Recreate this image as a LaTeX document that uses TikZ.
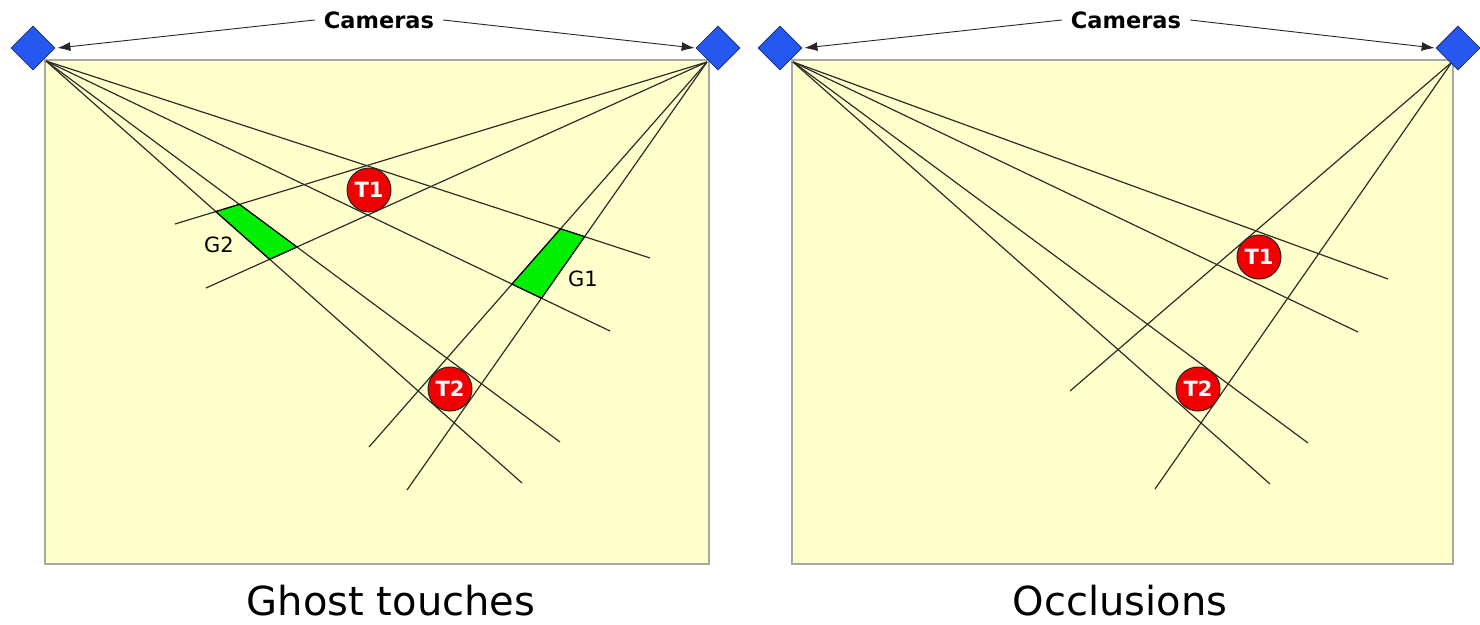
\documentclass[tikz,border=0pt]{standalone}
\usepackage{fontspec}
\setmainfont{DejaVu Sans}
\usetikzlibrary{shapes.geometric,arrows.meta,intersections}
\definecolor{fieldfill}{HTML}{FFFFCC}
\definecolor{fieldedge}{HTML}{A8A8A0}
\definecolor{camblue}{HTML}{2458F0}
\definecolor{camedge}{HTML}{1C2A7A}
\definecolor{raycol}{HTML}{2E2E28}
\definecolor{ghostgreen}{HTML}{00F000}
\definecolor{touchred}{HTML}{F00000}
\tikzset{
  field/.style={draw=fieldedge, fill=fieldfill, line width=1.6pt},
  camera/.style={diamond, draw=camedge, fill=camblue, minimum width=44pt, minimum height=44pt, inner sep=0pt, line width=0.8pt},
  ray/.style={draw=raycol, line width=1.2pt},
  touch/.style={circle, draw=black!85, fill=touchred, minimum size=44pt, inner sep=0pt, text=white, font=\bfseries\fontsize{21}{21}\selectfont, line width=1pt},
  ghost/.style={draw=black, fill=ghostgreen, line width=1.2pt},
  callout/.style={-{Latex[length=13pt,width=9pt]}, draw=black!85, line width=0.9pt},
  camlabel/.style={font=\bfseries\fontsize{22.5}{22.5}\selectfont, inner sep=9pt},
  caption/.style={font=\fontsize{40}{40}\selectfont, inner sep=0pt},
  glabel/.style={font=\fontsize{21}{21}\selectfont, inner sep=0pt}
}
\begin{document}
\begin{tikzpicture}[x=1pt,y=-1pt]
\useasboundingbox (0,0) rectangle (1480,624);
% ---------------- left panel: ghost touches ----------------
\draw[field] (45,60) rectangle (709,564);
\coordinate (aL) at (46,61);
\coordinate (aR) at (707,62);
\coordinate (aL1) at (650,258);
\coordinate (aL2) at (610,331);
\coordinate (aL3) at (560,442);
\coordinate (aL4) at (522,483);
\coordinate (aR1) at (175,224);
\coordinate (aR2) at (206,288);
\coordinate (aR3) at (369,447);
\coordinate (aR4) at (407,490);
\draw[ray, name path=al1] (aL) -- (aL1);
\draw[ray, name path=al2] (aL) -- (aL2);
\draw[ray, name path=al3] (aL) -- (aL3);
\draw[ray, name path=al4] (aL) -- (aL4);
\draw[ray, name path=ar1] (aR) -- (aR1);
\draw[ray, name path=ar2] (aR) -- (aR2);
\draw[ray, name path=ar3] (aR) -- (aR3);
\draw[ray, name path=ar4] (aR) -- (aR4);
\path[name intersections={of=al1 and ar3, by=g1a}];
\path[name intersections={of=al1 and ar4, by=g1b}];
\path[name intersections={of=al2 and ar4, by=g1c}];
\path[name intersections={of=al2 and ar3, by=g1d}];
\path[name intersections={of=ar1 and al4, by=g2a}];
\path[name intersections={of=ar1 and al3, by=g2b}];
\path[name intersections={of=ar2 and al3, by=g2c}];
\path[name intersections={of=ar2 and al4, by=g2d}];
\filldraw[ghost] (g1a) -- (g1b) -- (g1c) -- (g1d) -- cycle;
\filldraw[ghost] (g2a) -- (g2b) -- (g2c) -- (g2d) -- cycle;
\node[glabel] (g1txt) at (583,279) {G1};
\node[glabel] (g2txt) at (219,245) {G2};
\node[touch] (ta1) at (369,190) {T1};
\node[touch] (ta2) at (450,389) {T2};
\node[camera] (camA1) at (33,48) {};
\node[camera] (camA2) at (718,48) {};
\node[camlabel] (camtxtA) at (379,20) {Cameras};
\draw[callout] (camtxtA.west) -- ([xshift=2pt]camA1.east);
\draw[callout] (camtxtA.east) -- ([xshift=-1pt]camA2.west);
\node[caption] (capA) at (391,601) {Ghost touches};
% ---------------- right panel: occlusions ----------------
\draw[field] (792,60) rectangle (1453,564);
\coordinate (bL) at (793,62);
\coordinate (bR) at (1452,62);
\coordinate (bL1) at (1388,279);
\coordinate (bL2) at (1358,332);
\coordinate (bL3) at (1308,443);
\coordinate (bL4) at (1270,484);
\coordinate (bR1) at (1070,391);
\coordinate (bR2) at (1155,489);
\draw[ray] (bL) -- (bL1);
\draw[ray] (bL) -- (bL2);
\draw[ray] (bL) -- (bL3);
\draw[ray] (bL) -- (bL4);
\draw[ray] (bR) -- (bR1);
\draw[ray] (bR) -- (bR2);
\node[touch] (tb1) at (1259,257) {T1};
\node[touch] (tb2) at (1198,389) {T2};
\node[camera] (camB1) at (780,48) {};
\node[camera] (camB2) at (1458,48) {};
\node[camlabel] (camtxtB) at (1126,20) {Cameras};
\draw[callout] (camtxtB.west) -- ([xshift=2pt]camB1.east);
\draw[callout] (camtxtB.east) -- ([xshift=-1pt]camB2.west);
\node[caption] (capB) at (1120,601) {Occlusions};
\end{tikzpicture}
\end{document}
